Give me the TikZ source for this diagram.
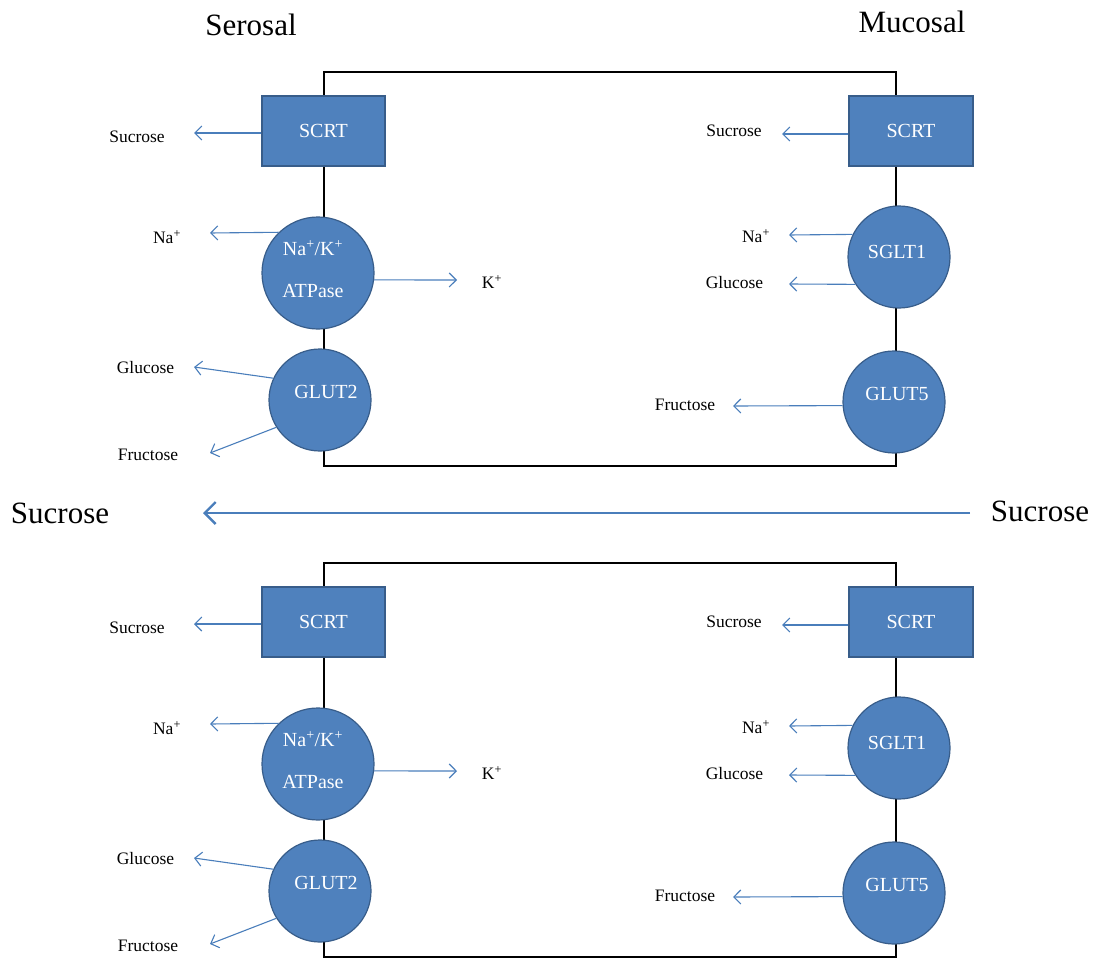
\documentclass[tikz,border=0pt]{standalone}
\usepackage{fontspec}
\setmainfont{Liberation Serif}
\usetikzlibrary{arrows.meta}
\definecolor{boxfill}{HTML}{4F81BD}
\definecolor{boxline}{HTML}{385D8A}
\definecolor{arrowblue}{HTML}{4A7EBB}
\tikzset{
  transporter/.style={fill=boxfill, draw=boxline, line width=1.2pt, inner sep=0pt},
  boxtr/.style={transporter, rectangle, minimum width=123pt, minimum height=70pt,
    text=white, font=\fontsize{20}{22}\selectfont},
  circtr/.style={transporter, circle},
  innertext/.style={text=white, font=\fontsize{20}{22}\selectfont, inner sep=0pt},
  flux/.style={draw=arrowblue, line width=1.1pt, -{Straight Barb[length=7pt,width=14pt]}},
  bigflux/.style={draw=arrowblue, line width=2.4pt, -{Straight Barb[length=11pt,width=22pt]}},
  smalllabel/.style={font=\fontsize{17.5}{20}\selectfont, inner sep=0pt},
  biglabel/.style={font=\fontsize{31}{34}\selectfont, inner sep=0pt},
  membrane/.style={draw=black, line width=2.4pt},
}
\newcommand{\membranecell}{%
  \draw[membrane] (324,72) rectangle (896,466);
  % serosal side
  \node[boxtr] (lscrt) at (323.5,131) {SCRT};
  \node[circtr, minimum size=112pt] (atp) at (318,273) {};
  \node[innertext] (atptxta) at (313,248) {Na\textsuperscript{+}/K\textsuperscript{+}};
  \node[innertext] (atptxtb) at (313,291) {ATPase};
  \node[circtr, minimum size=102pt] (glutb) at (320,400) {};
  \node[innertext] (glutbtxt) at (326,392) {GLUT2};
  % mucosal side
  \node[boxtr, minimum width=124pt] (rscrt) at (911,131) {SCRT};
  \node[circtr, minimum size=102pt] (sglt) at (899,257) {};
  \node[innertext] (sglttxt) at (897,252) {SGLT1};
  \node[circtr, minimum size=102pt] (glutc) at (894,402) {};
  \node[innertext] (glutctxt) at (897,394) {GLUT5};
  % labels serosal
  \node[smalllabel] (lsuc) at (137,137) {Sucrose};
  \node[smalllabel] (lna) at (167,237) {Na\textsuperscript{+}};
  \node[smalllabel] (lk) at (492,282) {K\textsuperscript{+}};
  \node[smalllabel] (lglu) at (145.5,368) {Glucose};
  \node[smalllabel] (lfru) at (148,455) {Fructose};
  % labels mucosal
  \node[smalllabel] (rsuc) at (734,131) {Sucrose};
  \node[smalllabel] (rna) at (756,236) {Na\textsuperscript{+}};
  \node[smalllabel] (rglu) at (734.5,283) {Glucose};
  \node[smalllabel] (rfru) at (685,405) {Fructose};
  % arrow tips
  \coordinate (lsucTip) at (194,133);
  \coordinate (lnaTip) at (210,233);
  \coordinate (lkTip) at (457,280);
  \coordinate (lgluTip) at (194,367);
  \coordinate (lfruTip) at (210,453);
  \coordinate (rsucTip) at (782,134);
  \coordinate (rnaTip) at (789,235);
  \coordinate (rgluTip) at (789,284);
  \coordinate (rfruTip) at (733,406);
  % fluxes
  \draw[flux] ([yshift=-2pt]lscrt.west) -- (lsucTip);
  \draw[flux] (atp.134) -- (lnaTip);
  \draw[flux] (atp.-7) -- (lkTip);
  \draw[flux] (glutb.155) -- (lgluTip);
  \draw[flux] (glutb.212.5) -- (lfruTip);
  \draw[flux] ([yshift=-3pt]rscrt.west) -- (rsucTip);
  \draw[flux] (sglt.154.4) -- (rnaTip);
  \draw[flux] (sglt.212) -- (rgluTip);
  \draw[flux] (glutc.184.5) -- (rfruTip);
}
\begin{document}
\begin{tikzpicture}[x=1pt, y=-1pt]
  \useasboundingbox (0,0) rectangle (1094,958);
  \node[biglabel] (serosal) at (251,25) {Serosal};
  \node[biglabel] (mucosal) at (912,22) {Mucosal};
  \begin{scope}[name prefix=t-]
    \membranecell
  \end{scope}
  \begin{scope}[name prefix=b-, yshift=-491pt]
    \membranecell
  \end{scope}
  \node[biglabel] (sucl) at (60,513) {Sucrose};
  \node[biglabel] (sucr) at (1040,511) {Sucrose};
  \coordinate (bigStart) at (970,513);
  \coordinate (bigEnd) at (203,513);
  \draw[bigflux] (bigStart) -- (bigEnd);
\end{tikzpicture}
\end{document}
